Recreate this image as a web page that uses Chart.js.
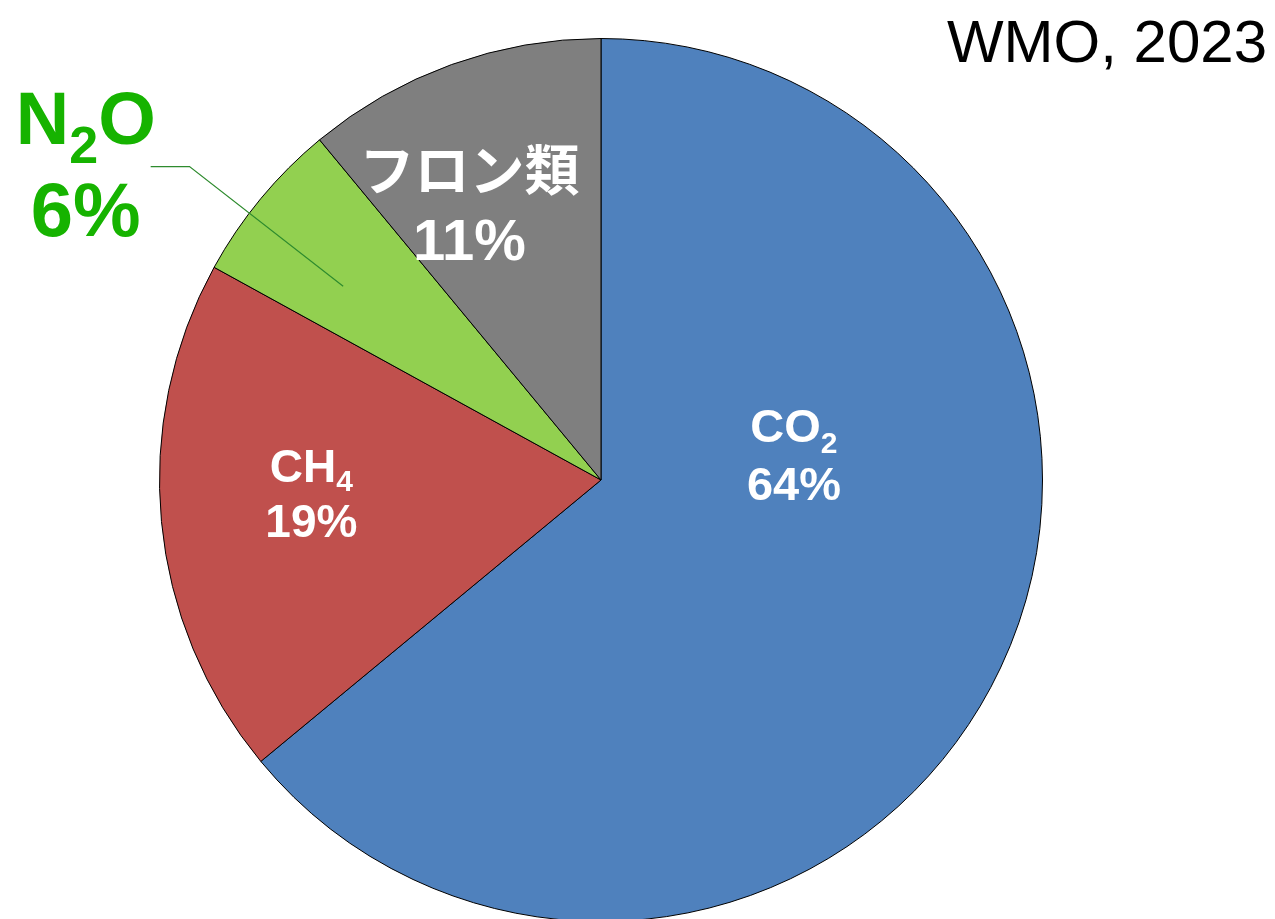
<!DOCTYPE html>
<html lang="ja">
<head>
<meta charset="utf-8">
<title>温室効果ガス</title>
<script src="https://cdn.jsdelivr.net/npm/chart.js@4.4.0/dist/chart.umd.min.js"></script>
<style>
  html, body { margin: 0; padding: 0; background: #fff; overflow: hidden; }
  #wrap { position: relative; width: 1275px; height: 925px; }
</style>
</head>
<body>
<div id="wrap"><canvas id="graf-gases" width="1275" height="925"></canvas></div>
<script>
// gases e participação (%)
const GASES    = ['CO2', 'CH4', 'N2O', 'フロン類'];
const FORMULAS = [['CO', '2', ''], ['CH', '4', ''], ['N', '2', 'O'], ['フロン類', '', '']];
const SHARES   = [64, 19, 6, 11];
const FONTE_DADOS = 'WMO, 2023';

const AZUL = '#4f81bd', VERMELHO = '#c0504d', VERDE = '#92d050', CINZA = '#7f7f7f',
      VERDE_TXT = '#16b300', VERDE_LINHA = '#2e8b2e';

const SANS = '"Liberation Sans", Arial, sans-serif';
const CJK  = '"Noto Sans CJK JP", "Noto Sans CJK SC", sans-serif';

// posição dos rótulos em frações do raio, a partir do centro da pizza
const ROTULOS = [
  { dx: 0.437,  dy: -0.086, tam: 47, sub: 30, desl: 11, gap: 58, tamPct: 47, cor: '#fff', fonte: SANS, peso: 'bold' },
  { dx: -0.656, dy: 0.005,  tam: 46, sub: 30, desl: 9,  gap: 55, tamPct: 46, cor: '#fff', fonte: SANS, peso: 'bold' },
  { dx: -1.167, dy: -0.762, tam: 74, sub: 52, desl: 19, gap: 92, tamPct: 76, cor: VERDE_TXT, fonte: SANS, peso: 'bold',
    guia: [[-1.020, -0.710], [-0.932, -0.710], [-0.584, -0.439]] },
  { dx: -0.298, dy: -0.656, tam: 55, sub: 0,  desl: 0,  gap: 70, tamPct: 58, cor: '#fff', fonte: CJK, peso: '600' },
];

function desenharFormula(ctx, partes, x, y, r) {
  const [base, sub, resto] = partes;
  const fMain = `${r.peso} ${r.tam}px ${r.fonte}`, fSub = `${r.peso} ${r.sub}px ${r.fonte}`;
  ctx.font = fMain;
  const w1 = ctx.measureText(base).width, w3 = ctx.measureText(resto).width;
  ctx.font = fSub;
  const w2 = sub ? ctx.measureText(sub).width : 0;
  let cx = x - (w1 + w2 + w3) / 2;
  ctx.textAlign = 'left';
  ctx.textBaseline = 'alphabetic';
  ctx.font = fMain; ctx.fillText(base, cx, y); cx += w1;
  if (sub) { ctx.font = fSub; ctx.fillText(sub, cx, y + r.desl); cx += w2; }
  if (resto) { ctx.font = fMain; ctx.fillText(resto, cx, y); }
}

const rotulosPlugin = {
  id: 'rotulosGases',
  afterDatasetsDraw(chart) {
    const ctx = chart.ctx;
    const arcos = chart.getDatasetMeta(0).data;
    ctx.save();
    arcos.forEach((arco, i) => {
      const r = ROTULOS[i];
      const R = arco.outerRadius;
      const x = arco.x + r.dx * R, y = arco.y + r.dy * R;
      if (r.guia) {
        ctx.strokeStyle = VERDE_LINHA;
        ctx.lineWidth = 1.2;
        ctx.beginPath();
        r.guia.forEach(([gx, gy], k) => {
          const px = arco.x + gx * R, py = arco.y + gy * R;
          k ? ctx.lineTo(px, py) : ctx.moveTo(px, py);
        });
        ctx.stroke();
      }
      ctx.fillStyle = r.cor;
      desenharFormula(ctx, FORMULAS[i], x, y, r);
      ctx.font = `bold ${r.tamPct}px ${SANS}`;
      ctx.textAlign = 'center';
      ctx.fillText(SHARES[i] + '%', x, y + r.gap);
    });
    // fonte dos dados no canto superior direito
    ctx.fillStyle = '#000';
    ctx.font = `60px ${SANS}`;
    ctx.textAlign = 'right';
    ctx.fillText(FONTE_DADOS, chart.width - 8, 62);
    ctx.restore();
  },
};

new Chart(document.getElementById('graf-gases'), {
  type: 'pie',
  data: {
    labels: GASES,
    datasets: [{
      data: SHARES,
      backgroundColor: [AZUL, VERMELHO, VERDE, CINZA],
      borderColor: '#000',
      borderWidth: 1,
    }],
  },
  options: {
    responsive: false,
    devicePixelRatio: 1,
    animation: false,
    layout: { padding: { left: 159, top: 38, right: 232, bottom: 3 } },
    plugins: { legend: { display: false }, tooltip: { enabled: false } },
  },
  plugins: [rotulosPlugin],
});
</script>
</body>
</html>
